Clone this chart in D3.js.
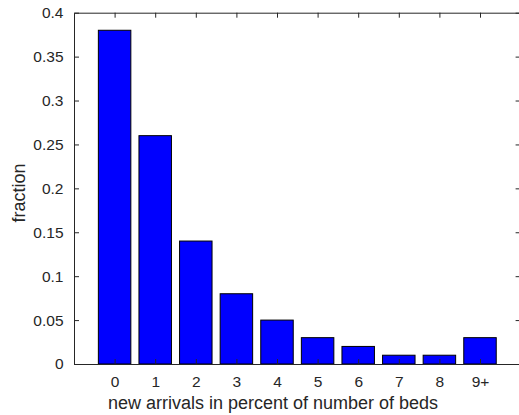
<!DOCTYPE html>
<html>
<head>
<meta charset="utf-8">
<script src="https://cdn.jsdelivr.net/npm/d3@7"></script>
<style>
  html, body { margin: 0; padding: 0; background: #fff; }
  svg { display: block; }
  text { font-family: "Liberation Sans", Arial, Helvetica, sans-serif; fill: #262626; }
</style>
</head>
<body>
<div id="chart"></div>
<script>
// bar chart data
const categories = ['0', '1', '2', '3', '4', '5', '6', '7', '8', '9+'];
const fractions = [0.38, 0.26, 0.14, 0.08, 0.05, 0.03, 0.02, 0.01, 0.01, 0.03];
const yTicks = [0, 0.05, 0.1, 0.15, 0.2, 0.25, 0.3, 0.35, 0.4];

const width = 519;
const height = 415;
const margin = { left: 74, top: 12.7, right: -1.6, bottom: 51 };

const svg = d3.select('#chart').append('svg')
  .attr('width', width)
  .attr('height', height);

const x = d3.scaleLinear()
  .domain([-1, categories.length])
  .range([margin.left, width - margin.right]);

const y = d3.scaleLinear()
  .domain([0, 0.4])
  .range([height - margin.bottom, margin.top]);

const barWidth = (x(1) - x(0)) * 0.8;
const tickLen = 5;

// Bars
svg.append('g')
  .selectAll('rect')
  .data(fractions)
  .enter().append('rect')
  .attr('x', (d, i) => x(i) - barWidth / 2)
  .attr('y', d => y(d))
  .attr('width', barWidth)
  .attr('height', d => y(0) - y(d))
  .attr('fill', '#0000ff')
  .attr('stroke', '#000')
  .attr('stroke-width', 1);

// Axes (ticks pointing inward, box on all sides)
const xBottom = svg.append('g')
  .attr('transform', `translate(0,${y(0)})`)
  .call(d3.axisBottom(x)
    .tickValues(d3.range(categories.length))
    .tickFormat(i => categories[i])
    .tickSizeInner(-tickLen)
    .tickSizeOuter(0)
    .tickPadding(12));

const xTop = svg.append('g')
  .attr('transform', `translate(0,${y(0.4)})`)
  .call(d3.axisTop(x)
    .tickValues(d3.range(categories.length))
    .tickFormat('')
    .tickSizeInner(-tickLen)
    .tickSizeOuter(0));

const yLeft = svg.append('g')
  .attr('transform', `translate(${x(-1)},0)`)
  .call(d3.axisLeft(y)
    .tickValues(yTicks)
    .tickFormat(d => d3.format('~g')(d))
    .tickSizeInner(-tickLen)
    .tickSizeOuter(0)
    .tickPadding(10.5));

const yRight = svg.append('g')
  .attr('transform', `translate(${x(categories.length)},0)`)
  .call(d3.axisRight(y)
    .tickValues(yTicks)
    .tickFormat('')
    .tickSizeInner(-tickLen)
    .tickSizeOuter(0));

[xBottom, xTop, yLeft, yRight].forEach(g => {
  g.selectAll('path, line').attr('stroke', '#262626').attr('stroke-width', 1);
  g.selectAll('text').attr('font-size', 15.5).attr('fill', '#262626')
    .style('font-family', '"Liberation Sans", Arial, sans-serif');
});

// Axis labels
svg.append('text')
  .attr('x', 273)
  .attr('y', 409)
  .attr('text-anchor', 'middle')
  .attr('font-size', 18)
  .text('new arrivals in percent of number of beds');

svg.append('text')
  .attr('transform', `translate(25,193) rotate(-90)`)
  .attr('text-anchor', 'middle')
  .attr('font-size', 18)
  .text('fraction');
</script>
</body>
</html>
